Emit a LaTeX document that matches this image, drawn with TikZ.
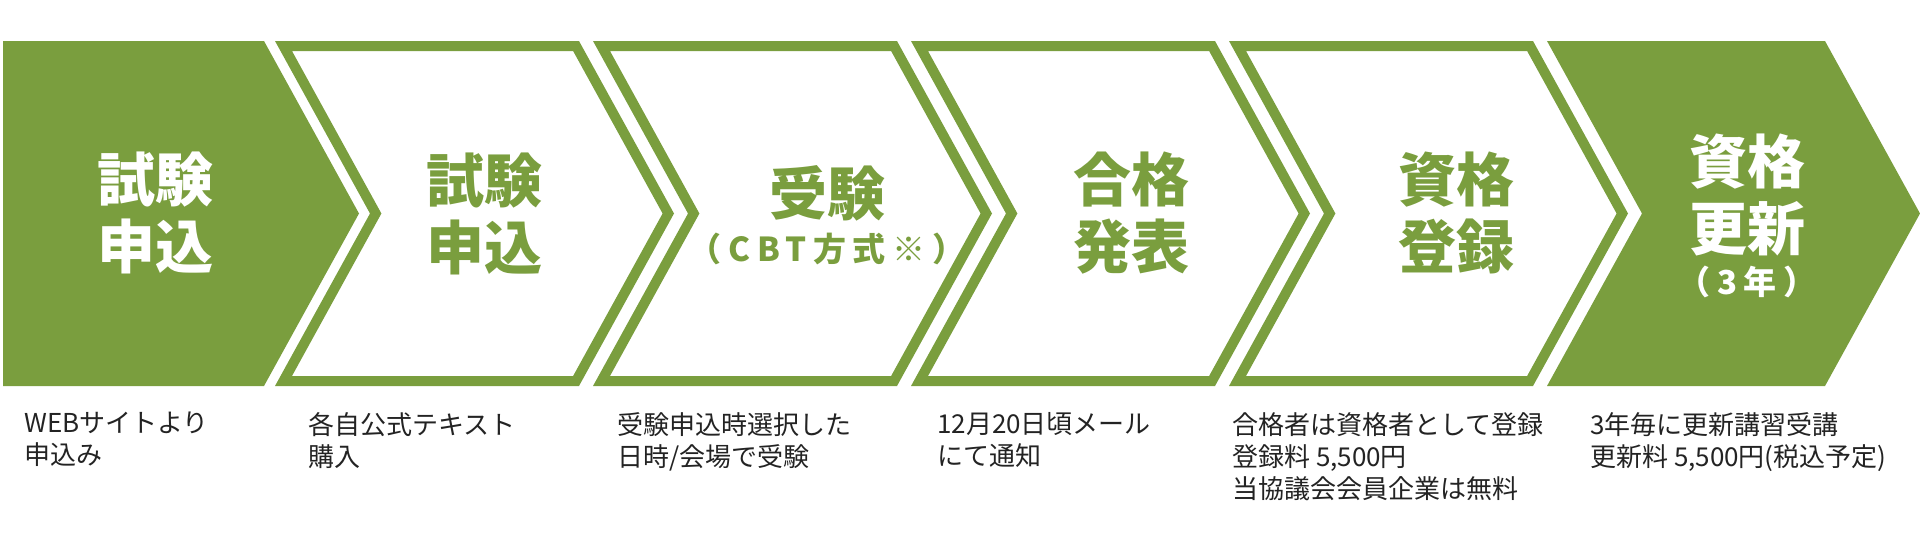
\documentclass[tikz,border=0pt]{standalone}
\usepackage{fontspec}
\usepackage{tikz}
\newfontfamily\jpfont{Noto Sans CJK JP}
\definecolor{step_green}{RGB}{122,158,62}
\definecolor{note_gray}{RGB}{35,35,35}
% filled step: left, right, notch depth (0 = flat left side)
\newcommand\stepfill[3]{\fill[step_green] (#1,41) -- (#2,41) -- ({#2+95},213.5) -- (#2,386) -- (#1,386) -- ({#1+#3},213.5) -- cycle;}
% outlined step: left, right
\newcommand\stepframe[2]{\fill[step_green,even odd rule]
  (#1,41) -- (#2,41) -- ({#2+95},213.5) -- (#2,386) -- (#1,386) -- ({#1+95},213.5) -- cycle
  ({#1+17},51) -- ({#2-5.9},51) -- ({#2+83.6},213.5) -- ({#2-5.9},376) -- ({#1+17},376) -- ({#1+106.4},213.5) -- cycle;}
\newcommand\smallline[1]{{\fontsize{33}{67}\selectfont\addfontfeature{LetterSpace=20}#1}}

\begin{document}
\begin{tikzpicture}[x=1pt,y=-1pt]
    \tikzstyle{title}=[font=\jpfont\bfseries\fontsize{58}{67}\selectfont,align=center,inner sep=0pt]
    \tikzstyle{titlein}=[style=title,text=white]
    \tikzstyle{titleout}=[style=title,text=step_green]
    \tikzstyle{note}=[font=\jpfont\fontsize{26}{32}\selectfont,align=left,anchor=north west,inner sep=0pt,text=note_gray]

    \useasboundingbox (0,0) rectangle (1920,546);

    \stepfill{3}{264}{0}
    \stepframe{275}{579}
    \stepframe{593}{897}
    \stepframe{911}{1215}
    \stepframe{1229}{1533}
    \stepfill{1547}{1825}{95}

    \node[titlein]  (apply)   at (155,213)    {試験\\申込};
    \node[titleout] (text)    at (484,214)    {試験\\申込};
    \node[titleout] (exam)    at (827,215.5)  {受験\\[-21pt]\smallline{（CBT方式※）}};
    \node[titleout] (pass)    at (1131,213)   {合格\\発表};
    \node[titleout] (regist)  at (1456,213)   {資格\\登録};
    \node[titlein]  (renew)   at (1747,215.5) {資格\\更新\\[-23pt]\smallline{（3年）}};

    \node[note] (apply_n)  at (24,412)   {WEBサイトより\\申込み};
    \node[note] (text_n)   at (308,412)  {各自公式テキスト\\購入};
    \node[note] (exam_n)   at (617,412)  {受験申込時選択した\\日時/会場で受験};
    \node[note] (pass_n)   at (937,412)  {12月20日頃メール\\にて通知};
    \node[note] (regist_n) at (1232,412) {合格者は資格者として登録\\登録料 5,500円\\当協議会会員企業は無料};
    \node[note] (renew_n)  at (1590,412) {3年毎に更新講習受講\\更新料 5,500円(税込予定)};
\end{tikzpicture}
\end{document}
